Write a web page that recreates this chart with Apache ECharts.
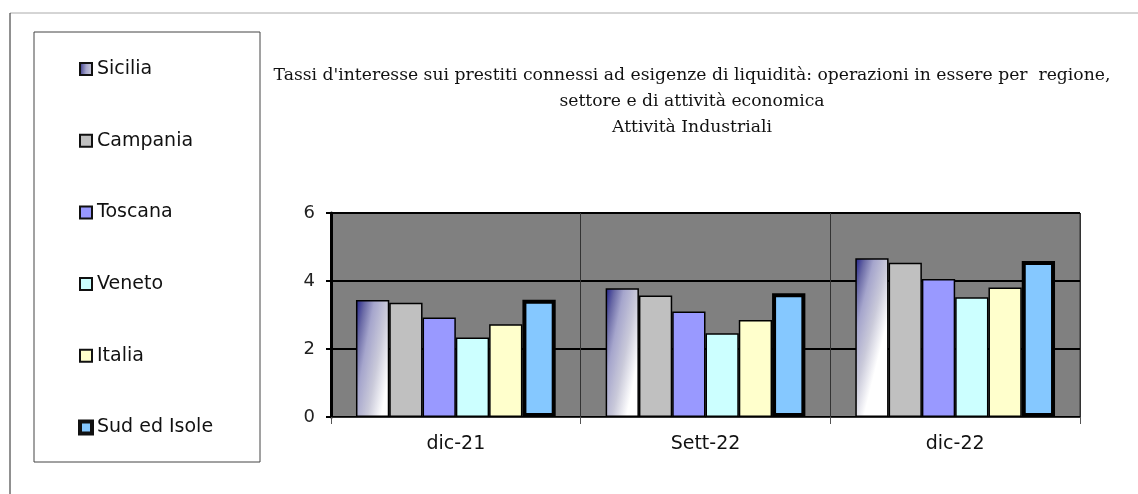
<!DOCTYPE html>
<html>
<head>
<meta charset="utf-8">
<script src="https://cdn.jsdelivr.net/npm/echarts@6/dist/echarts.min.js"></script>
<style>
  html, body { margin: 0; padding: 0; background: #fff; }
  #chart { width: 1138px; height: 494px; }
</style>
</head>
<body>
<div id="chart"></div>
<script>
// dati
var categorie = ['dic-21', 'Sett-22', 'dic-22'];
var regioni = ['Sicilia', 'Campania', 'Toscana', 'Veneto', 'Italia', 'Sud ed Isole'];
var sicilia = [3.44, 3.79, 4.67];
var campania = [3.36, 3.57, 4.54];
var toscana = [2.93, 3.10, 4.06];
var veneto = [2.34, 2.46, 3.52];
var italia = [2.73, 2.85, 3.81];
var sudIsole = [3.45, 3.64, 4.59];
var tickY = [0, 2, 4, 6];

var valori = [sicilia, campania, toscana, veneto, italia, sudIsole];

// sfumatura quasi orizzontale, leggermente inclinata (scuro in alto a sinistra)
var coloreSicilia = new echarts.graphic.LinearGradient(0, 0, 1.35, 0.07, [
  { offset: 0, color: '#20208a' },
  { offset: 0.2, color: '#6a6aa6' },
  { offset: 0.4, color: '#a5a5cc' },
  { offset: 0.7, color: '#cacada' },
  { offset: 1, color: '#ffffff' }
]);
var colori = [coloreSicilia, '#c0c0c0', '#9999ff', '#ccffff', '#ffffcc', '#85c8ff'];

var series = [];
for (var i = 0; i < regioni.length; i++) {
  series.push({
    name: regioni[i],
    type: 'bar',
    barGap: '0%',
    barCategoryGap: '20%',
    data: valori[i],
    itemStyle: {
      color: colori[i],
      borderColor: '#000',
      borderWidth: i === 5 ? 4 : 1.5
    }
  });
}

// voci della legenda (bordo più spesso per Sud ed Isole)
var voci = regioni.map(function (r, i) {
  return { name: r, itemStyle: { borderColor: '#111', borderWidth: i === 5 ? 4 : 2 } };
});

var chart = echarts.init(document.getElementById('chart'), null, { renderer: 'canvas' });
var option = {
  animation: false,
  backgroundColor: '#fff',
  graphic: [
    { type: 'line', shape: { x1: 10, y1: 13, x2: 1138, y2: 13 }, style: { stroke: '#aaa', lineWidth: 1 } },
    { type: 'line', shape: { x1: 10, y1: 13, x2: 10, y2: 494 }, style: { stroke: '#222', lineWidth: 1 } },
    { type: 'rect', shape: { x: 34, y: 32, width: 226, height: 430 }, style: { fill: 'none', stroke: '#444', lineWidth: 1 } },
    {
      type: 'text', x: 692, y: 63,
      style: {
        text: "Tassi d'interesse sui prestiti connessi ad esigenze di liquidità: operazioni in essere per  regione,\nsettore e di attività economica\nAttività Industriali",
        textAlign: 'center',
        textVerticalAlign: 'top',
        font: '17.2px "DejaVu Serif", serif',
        lineHeight: 26,
        fill: '#111'
      }
    }
  ],
  legend: {
    orient: 'vertical',
    left: 78,
    top: 59,
    padding: 0,
    itemWidth: 12,
    itemHeight: 12,
    itemGap: 51.7,
    icon: 'rect',
    data: voci,
    textStyle: { fontFamily: 'DejaVu Sans', fontSize: 19, color: '#111', lineHeight: 20 }
  },
  grid: {
    left: 331,
    top: 213,
    right: 58,
    height: 204,
    show: true,
    backgroundColor: '#808080',
    borderColor: '#333',
    borderWidth: 1
  },
  xAxis: {
    type: 'category',
    data: categorie,
    axisLine: { show: true, lineStyle: { color: '#333', width: 1 } },
    axisTick: { show: true, length: 7, lineStyle: { color: '#555' } },
    splitLine: { show: true, lineStyle: { color: '#333', width: 1 } },
    axisLabel: { margin: 18, fontFamily: 'DejaVu Sans', fontSize: 19, color: '#111' }
  },
  yAxis: {
    type: 'value',
    min: tickY[0],
    max: tickY[tickY.length - 1],
    interval: 2,
    axisLine: { show: true, lineStyle: { color: '#000', width: 3 } },
    axisTick: { show: true, length: 5, lineStyle: { color: '#000', width: 2 } },
    splitLine: { show: true, lineStyle: { color: '#000', width: 2 } },
    axisLabel: { margin: 16, fontFamily: 'DejaVu Sans', fontSize: 18, color: '#222' }
  },
  series: series
};
chart.setOption(option);
</script>
</body>
</html>
